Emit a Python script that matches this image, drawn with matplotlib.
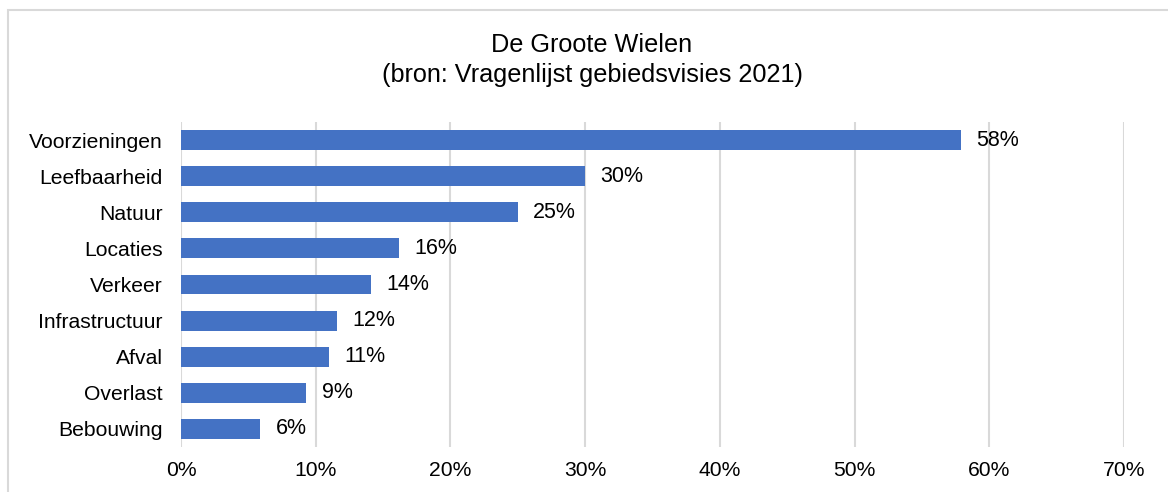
import matplotlib.pyplot as plt
from matplotlib.patches import Rectangle
from matplotlib.ticker import FuncFormatter

# data
categories = ["Voorzieningen", "Leefbaarheid", "Natuur", "Locaties", "Verkeer",
              "Infrastructuur", "Afval", "Overlast", "Bebouwing"]
values = [57.9, 30.0, 25.0, 16.2, 14.1, 11.6, 11.0, 9.3, 5.9]
labels = ["58%", "30%", "25%", "16%", "14%", "12%", "11%", "9%", "6%"]
xticks = [0, 10, 20, 30, 40, 50, 60, 70]

plt.rcParams['font.family'] = ['Liberation Sans', 'DejaVu Sans']

fig = plt.figure(figsize=(11.68, 4.92), dpi=100)
W, H = 1168, 492

# light border of the chart area (runs off right and bottom)
fig.patches.append(Rectangle((8 / W, -0.1), 1.2, 1 - 10 / H + 0.1, transform=fig.transFigure,
                             fill=False, edgecolor="#d9d9d9", linewidth=1.5))

ax = fig.add_axes([181 / W, 1 - 447 / H, (1124 - 181) / W, (447 - 122) / H])

ypos = list(range(len(categories)))
ax.barh(ypos, values, height=0.55, color="#4472c4", zorder=3)
for y, v, lab in zip(ypos, values, labels):
    ax.annotate(lab, (v, y), xytext=(11, 0), textcoords="offset points",
                va="center", ha="left", fontsize=15.5, color="#000000")

ax.set_xlim(0, 70)
ax.set_ylim(len(categories) - 0.5, -0.5)
ax.set_yticks(ypos)
ax.set_yticklabels(categories)
ax.set_xticks(xticks)
ax.xaxis.set_major_formatter(FuncFormatter(lambda x, p: f"{x:.0f}%"))
ax.tick_params(axis="y", length=0, pad=13, labelsize=15.2)
ax.tick_params(axis="x", length=0, pad=10, labelsize=15.2)
ax.grid(axis="x", color="#d9d9d9", linewidth=1.5, zorder=0)
for s in ax.spines.values():
    s.set_visible(False)

fig.text(592 / W, 1 - 45 / H, "De Groote Wielen", ha="center", va="center", fontsize=18.2)
fig.text(592 / W, 1 - 75 / H, "(bron: Vragenlijst gebiedsvisies 2021)", ha="center",
         va="center", fontsize=18.2)

plt.savefig("out.png", dpi=100)
